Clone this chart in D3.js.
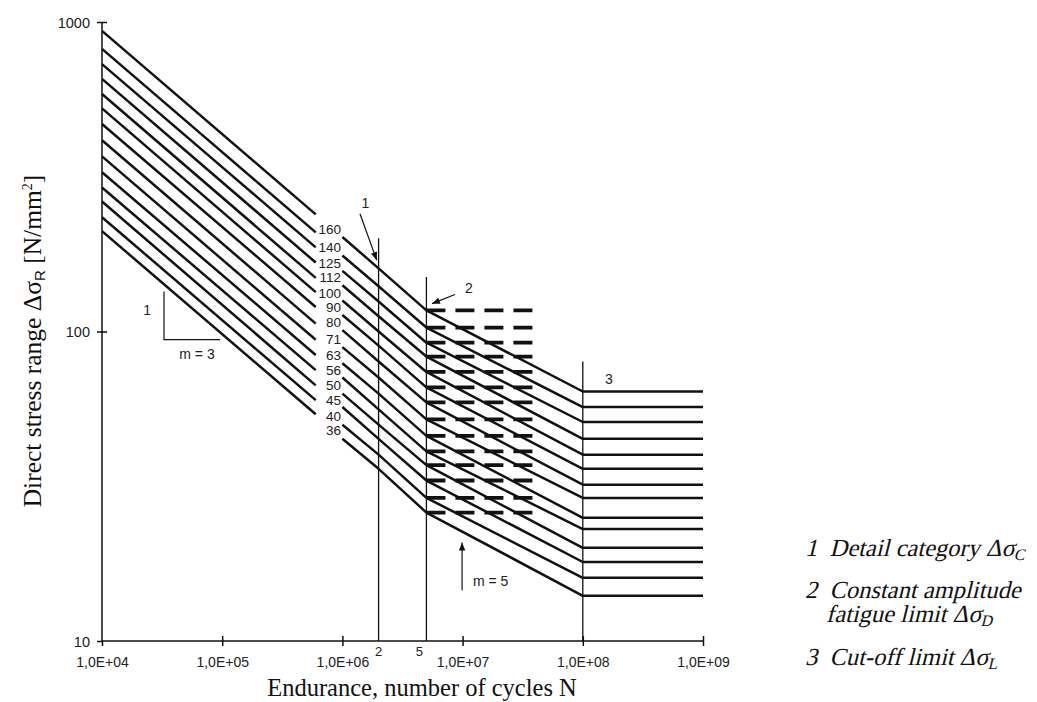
<!DOCTYPE html>
<html>
<head>
<meta charset="utf-8">
<script src="https://cdn.jsdelivr.net/npm/d3@7"></script>
<style>
  html, body { margin: 0; padding: 0; background: #fff; }
  svg { display: block; }
</style>
</head>
<body>
<div id="chart"></div>
<script>
// detail categories, delta sigma C at 2e6 cycles
const categories = [160, 140, 125, 112, 100, 90, 80, 71, 63, 56, 50, 45, 40, 36];
// stress range read at N = 1e4, 6e5 (end of first piece), 1e6 (start of second piece)
const sigmaAt1e4 = [936, 819, 731, 655, 585, 526, 468, 415, 368, 327, 292, 263, 234, 211];
const sigmaAt6e5 = [239, 209, 187, 167, 149, 134, 120, 106, 94, 84, 75, 67, 60, 54];
const sigmaAt1e6 = [202, 176, 157, 141, 126, 113, 101, 89, 79, 71, 63, 57, 50, 45];
// constant amplitude fatigue limit (5e6) and cut-off limit (1e8)
const sigmaD = [117, 103, 92, 83, 74, 66, 59, 52, 46, 41, 37, 33, 29, 26];
const sigmaL = [64, 57, 51, 45, 40, 36, 32, 29, 25, 23, 20, 18, 16, 14];

const xTicks = [1e4, 1e5, 1e6, 1e7, 1e8, 1e9];
const xTickLabels = ['1,0E+04', '1,0E+05', '1,0E+06', '1,0E+07', '1,0E+08', '1,0E+09'];
const yTicks = [10, 100, 1000];
const yTickLabels = ['10', '100', '1000'];

// vertical reference lines: cycles, top stress, small label under the axis
const refN = [2e6, 5e6, 1e8];
const refTop = [200, 150, 80];
const refLabels = ['2', '5', ''];
const dashEndN = 4e7;

const width = 1037, height = 702;

const x = d3.scaleLog().domain([1e4, 1e9]).range([102, 703]);
const y = d3.scaleLog().domain([10, 1000]).range([641, 22]);

const svg = d3.select('#chart').append('svg')
  .attr('width', width)
  .attr('height', height);

const defs = svg.append('defs');
defs.append('marker')
  .attr('id', 'arrow')
  .attr('viewBox', '0 0 10 10')
  .attr('refX', 10).attr('refY', 5)
  .attr('markerWidth', 11).attr('markerHeight', 8)
  .attr('markerUnits', 'userSpaceOnUse')
  .attr('orient', 'auto')
  .append('path')
  .attr('d', 'M0,1 L10,5 L0,9 Z')
  .attr('fill', '#111');

const sans = "'Liberation Sans', Arial, sans-serif";
const serif = "'Liberation Serif', 'Times New Roman', serif";

// **Axes**
const xAxis = svg.append('g')
  .attr('transform', `translate(0,${y(10)})`)
  .call(d3.axisBottom(x).tickValues(xTicks).tickSize(5).tickFormat((d, i) => xTickLabels[i]));
xAxis.select('.domain').attr('d', `M${x(1e4)},0H${x(1e9)}`).attr('stroke', '#111').attr('stroke-width', 1.5);
xAxis.selectAll('.tick line').attr('y1', -5).attr('y2', 5).attr('stroke', '#111').attr('stroke-width', 1.5);
xAxis.selectAll('.tick text').attr('y', 26).attr('dy', 0)
  .attr('font-family', sans).attr('font-size', 14).attr('fill', '#222');

const yAxis = svg.append('g')
  .attr('transform', `translate(${x(1e4)},0)`)
  .call(d3.axisLeft(y).tickValues(yTicks).tickSize(5).tickFormat((d, i) => yTickLabels[i]));
yAxis.select('.domain').attr('d', `M0,${y(1000)}V${y(10)}`).attr('stroke', '#111').attr('stroke-width', 1.5);
yAxis.selectAll('.tick line').attr('x1', -5).attr('x2', 5).attr('stroke', '#111').attr('stroke-width', 1.5);
yAxis.selectAll('.tick text').attr('x', -12).attr('dy', '0.35em')
  .attr('font-family', sans).attr('font-size', 14.5).attr('fill', '#222');
xAxis.selectAll('.tick').filter(d => d === 1e4).select('line').attr('y1', 0);
yAxis.selectAll('.tick').filter(d => d === 10).select('line').attr('x2', 0);

// **Vertical reference lines**
refN.forEach((n, i) => {
  svg.append('line')
    .attr('x1', x(n)).attr('x2', x(n))
    .attr('y1', y(refTop[i])).attr('y2', y(10))
    .attr('stroke', '#111').attr('stroke-width', 1.3);
  if (refLabels[i]) {
    svg.append('text')
      .attr('x', x(n) + (refLabels[i] === '5' ? -7 : 0))
      .attr('y', y(10) + 15)
      .attr('text-anchor', 'middle')
      .attr('font-family', sans).attr('font-size', 13).attr('fill', '#222')
      .text(refLabels[i]);
  }
});

// **S-N curves**
const line = d3.line().x(d => x(d[0])).y(d => y(d[1]));

categories.forEach((c, i) => {
  svg.append('path')
    .datum([[1e4, sigmaAt1e4[i]], [6e5, sigmaAt6e5[i]]])
    .attr('fill', 'none').attr('stroke', '#111').attr('stroke-width', 2.5)
    .attr('d', line);
  svg.append('path')
    .datum([[1e6, sigmaAt1e6[i]], [2e6, c], [5e6, sigmaD[i]], [1e8, sigmaL[i]], [1e9, sigmaL[i]]])
    .attr('fill', 'none').attr('stroke', '#111').attr('stroke-width', 2.5)
    .attr('stroke-linejoin', 'round')
    .attr('d', line);
  svg.append('path')
    .datum([[5e6, sigmaD[i]], [dashEndN, sigmaD[i]]])
    .attr('fill', 'none').attr('stroke', '#111').attr('stroke-width', 3.8)
    .attr('stroke-dasharray', '19,10')
    .attr('d', line);
  svg.append('text')
    .attr('x', 341)
    .attr('y', y(Math.sqrt(sigmaAt6e5[i] * sigmaAt1e6[i])) + 8.5)
    .attr('text-anchor', 'end')
    .attr('font-family', sans).attr('font-size', 13.5).attr('fill', '#222')
    .text(c);
});

// **Annotations**
const arrow = (from, to) => svg.append('line')
  .attr('x1', x(from[0])).attr('y1', y(from[1]))
  .attr('x2', x(to[0])).attr('y2', y(to[1]))
  .attr('stroke', '#111').attr('stroke-width', 1.2)
  .attr('marker-end', 'url(#arrow)');
const note = (p, txt, anchor) => svg.append('text')
  .attr('x', x(p[0])).attr('y', y(p[1]))
  .attr('text-anchor', anchor || 'middle')
  .attr('font-family', sans).attr('font-size', 14).attr('fill', '#222')
  .text(txt);

arrow([1.4e6, 240], [1.93e6, 170]);
note([1.55e6, 250], '1');
arrow([8.65e6, 131.7], [5.56e6, 123]);
note([1.13e7, 133], '2');
note([1.65e8, 67.5], '3');
arrow([9.9e6, 14.6], [9.9e6, 20.8]);
note([1.22e7, 15.1], 'm = 5', 'start');

// slope triangle
svg.append('path')
  .datum([[3.28e4, 134.6], [3.28e4, 94.2], [9.6e4, 94.2]])
  .attr('fill', 'none').attr('stroke', '#111').attr('stroke-width', 1.2)
  .attr('d', line);
note([2.37e4, 113], '1');
note([6.17e4, 81.8], 'm = 3');

// **Axis titles**
svg.append('text')
  .attr('x', 422).attr('y', 696)
  .attr('text-anchor', 'middle')
  .attr('font-family', serif).attr('font-size', 24.5).attr('fill', '#111')
  .text('Endurance, number of cycles N');

const yTitle = svg.append('text')
  .attr('transform', 'translate(41,341) rotate(-90)')
  .attr('text-anchor', 'middle')
  .attr('font-family', serif).attr('font-size', 25.5).attr('fill', '#111');
yTitle.append('tspan').text('Direct stress range Δσ');
yTitle.append('tspan').attr('font-size', 15).attr('font-family', sans).attr('dy', 4).text('R');
yTitle.append('tspan').attr('dy', -4).text(' [N/mm');
yTitle.append('tspan').attr('font-size', 14).attr('dy', -9).text('2');
yTitle.append('tspan').attr('dy', 9).text(']');

// **Legend** (serif, slanted)
const legendRows = [
  { x: 805, y: 556, main: '1  Detail category Δσ', sub: 'C' },
  { x: 805, y: 598, main: '2  Constant amplitude', sub: '' },
  { x: 826, y: 622, main: 'fatigue limit Δσ', sub: 'D' },
  { x: 805, y: 665, main: '3  Cut-off limit Δσ', sub: 'L' }
];
legendRows.forEach(r => {
  const t = svg.append('text')
    .attr('transform', `translate(${r.x},${r.y}) skewX(-14)`)
    .attr('font-family', serif)
    .attr('font-size', 24.5).attr('fill', '#111')
    .style('white-space', 'pre');
  t.append('tspan').text(r.main);
  if (r.sub) t.append('tspan').attr('font-size', 16).attr('dy', 4).text(r.sub);
});
</script>
</body>
</html>
